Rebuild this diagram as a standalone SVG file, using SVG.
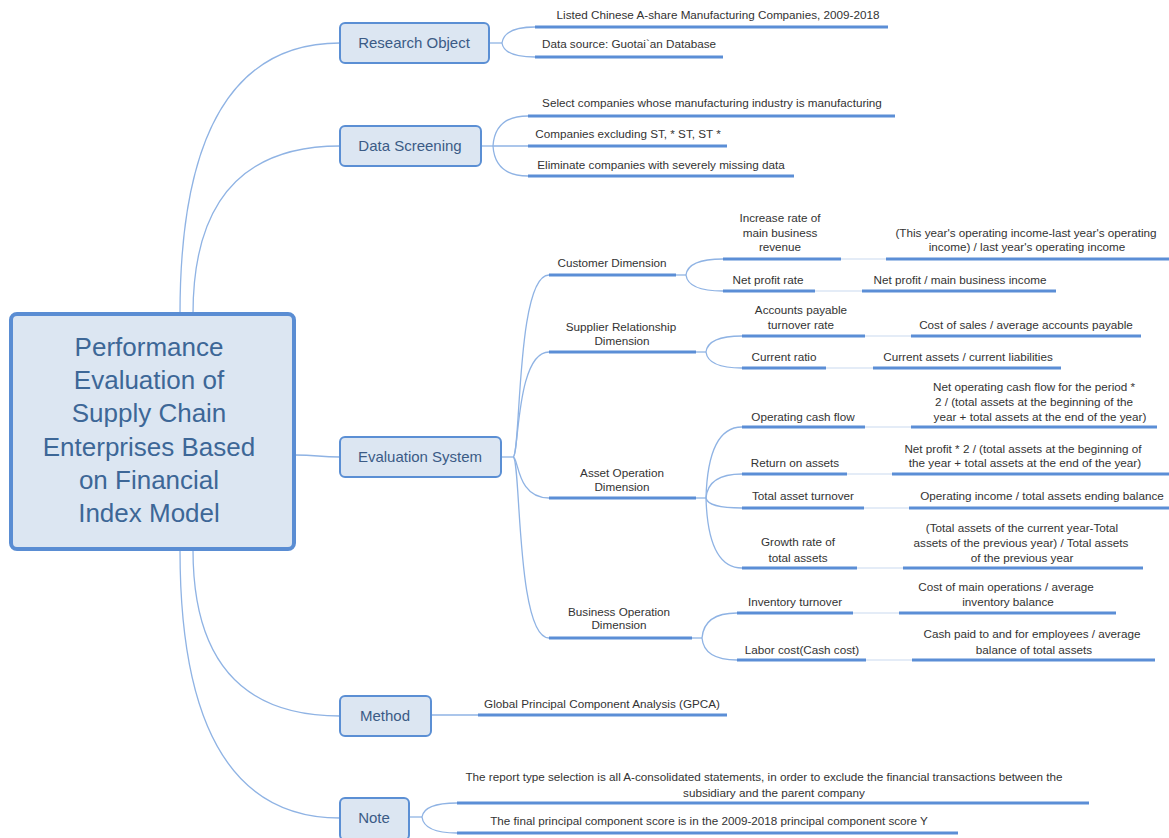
<svg xmlns="http://www.w3.org/2000/svg" width="1169" height="838" viewBox="0 0 1169 838">
<style>
.bg{fill:#ffffff}
.root{fill:#dce6f2;stroke:#5a8dd3;stroke-width:4}
.box{fill:#dce6f2;stroke:#5b8fd4;stroke-width:2}
.rt{font-family:"Liberation Sans",Arial,sans-serif;font-size:26px;fill:#3d6797;text-anchor:middle}
.mt{font-family:"Liberation Sans",Arial,sans-serif;font-size:15px;fill:#3b5b86;text-anchor:middle}
.lt{font-family:"Liberation Sans",Arial,sans-serif;font-size:11.7px;fill:#333333;text-anchor:middle}
.ul{stroke:#5b8ed6;stroke-width:3;fill:none}
.cn{stroke:#8fb3e4;stroke-width:1.3;fill:none}
.tn{stroke:#c9d9ef;stroke-width:1.2;fill:none}
</style>
<rect class="bg" x="0" y="0" width="1169" height="838"/>

<g id="connectors">
  <!-- root to main topics -->
  <path class="cn" d="M180 314 Q180 43 340 43"/>
  <path class="cn" d="M193 314 Q193 146 340 146"/>
  <path class="cn" d="M295 455 C318 455 318 457 340 457"/>
  <path class="cn" d="M193 550 Q193 716 340 716"/>
  <path class="cn" d="M180 550 Q180 818 340 818"/>
  <!-- Research Object -->
  <path class="cn" d="M489 43 L502 43"/>
  <path class="cn" d="M502 43 Q504 27 535 27"/>
  <path class="cn" d="M502 43 Q504 57 535 57"/>
  <!-- Data Screening -->
  <path class="cn" d="M481 146 L493 146"/>
  <path class="cn" d="M493 146 Q495 116 528 116"/>
  <path class="cn" d="M493 146 L528 146"/>
  <path class="cn" d="M493 146 Q495 176 528 176"/>
  <!-- Evaluation System spine -->
  <path class="cn" d="M501 457 L513 457"/>
  <path class="cn" d="M513 457 C521 457 516 275 549 275"/>
  <path class="cn" d="M513 457 C519 457 516 352 549 352"/>
  <path class="cn" d="M513 457 C519 457 516 498 549 498"/>
  <path class="cn" d="M513 457 C521 457 516 638 549 638"/>
  <!-- Customer -->
  <path class="cn" d="M676 275 L686 275"/>
  <path class="cn" d="M686 275 Q688 259 723 259"/>
  <path class="cn" d="M686 275 Q688 291 723 291"/>
  <!-- Supplier -->
  <path class="cn" d="M696 352 L706 352"/>
  <path class="cn" d="M706 352 Q708 336 742 336"/>
  <path class="cn" d="M706 352 Q708 368 742 368"/>
  <!-- Asset -->
  <path class="cn" d="M696 498 L706 498"/>
  <path class="cn" d="M706 498 Q708 427 742 427"/>
  <path class="cn" d="M706 498 Q708 474 742 474"/>
  <path class="cn" d="M706 498 Q708 508 742 508"/>
  <path class="cn" d="M706 498 Q708 568 742 568"/>
  <!-- Business -->
  <path class="cn" d="M692 638 L702 638"/>
  <path class="cn" d="M702 638 Q704 613 737 613"/>
  <path class="cn" d="M702 638 Q704 660 737 660"/>
  <!-- indicator to formula -->
  <path class="tn" d="M841 259 L886 259"/>
  <path class="tn" d="M815 291 L862 291"/>
  <path class="tn" d="M865 336 L911 336"/>
  <path class="tn" d="M826 368 L873 368"/>
  <path class="tn" d="M865 427 L911 427"/>
  <path class="tn" d="M847 474 L892 474"/>
  <path class="tn" d="M864 508 L909 508"/>
  <path class="tn" d="M857 568 L903 568"/>
  <path class="tn" d="M853 613 L899 613"/>
  <path class="tn" d="M866 660 L912 660"/>
  <!-- Method -->
  <path class="cn" d="M431 715 L478 715"/>
  <!-- Note -->
  <path class="cn" d="M409 817 L422 817"/>
  <path class="cn" d="M422 817 Q424 803 457 803"/>
  <path class="cn" d="M422 817 Q424 833 457 833"/>
</g>

<g id="root">
  <rect class="root" x="11" y="314" width="283" height="235" rx="6"/>
  <text class="rt" x="149" y="356">Performance</text>
  <text class="rt" x="149" y="389">Evaluation of</text>
  <text class="rt" x="149" y="422">Supply Chain</text>
  <text class="rt" x="149" y="456">Enterprises Based</text>
  <text class="rt" x="149" y="489">on Financial</text>
  <text class="rt" x="149" y="522">Index Model</text>
</g>

<g id="research-object">
  <rect class="box" x="340" y="23" width="149" height="40" rx="5"/>
  <text class="mt" x="414" y="48">Research Object</text>
</g>
<g id="ro-listed">
  <line class="ul" x1="535" y1="27" x2="888" y2="27"/>
  <text class="lt" x="718" y="19">Listed Chinese A-share Manufacturing Companies, 2009-2018</text>
</g>
<g id="ro-source">
  <line class="ul" x1="535" y1="57" x2="723" y2="57"/>
  <text class="lt" x="629" y="48">Data source: Guotai`an Database</text>
</g>

<g id="data-screening">
  <rect class="box" x="340" y="126" width="141" height="40" rx="5"/>
  <text class="mt" x="410" y="151">Data Screening</text>
</g>
<g id="ds-select">
  <line class="ul" x1="528" y1="116" x2="895" y2="116"/>
  <text class="lt" x="712" y="107">Select companies whose manufacturing industry is manufacturing</text>
</g>
<g id="ds-exclude">
  <line class="ul" x1="528" y1="146" x2="727" y2="146"/>
  <text class="lt" x="628" y="138">Companies excluding ST, * ST, ST *</text>
</g>
<g id="ds-eliminate">
  <line class="ul" x1="528" y1="176" x2="794" y2="176"/>
  <text class="lt" x="661" y="169">Eliminate companies with severely missing data</text>
</g>

<g id="evaluation-system">
  <rect class="box" x="340" y="437" width="161" height="40" rx="5"/>
  <text class="mt" x="420" y="462">Evaluation System</text>
</g>

<g id="customer-dimension">
  <line class="ul" x1="549" y1="275" x2="676" y2="275"/>
  <text class="lt" x="612" y="267">Customer Dimension</text>
</g>
<g id="increase-rate">
  <line class="ul" x1="723" y1="259" x2="841" y2="259"/>
  <text class="lt" x="780" y="222">Increase rate of</text>
  <text class="lt" x="780" y="237">main business</text>
  <text class="lt" x="780" y="251">revenue</text>
</g>
<g id="increase-rate-formula">
  <line class="ul" x1="886" y1="259" x2="1169" y2="259"/>
  <text class="lt" x="1026" y="237">(This year's operating income-last year's operating</text>
  <text class="lt" x="1027" y="251">income) / last year's operating income</text>
</g>
<g id="net-profit-rate">
  <line class="ul" x1="723" y1="291" x2="815" y2="291"/>
  <text class="lt" x="768" y="284">Net profit rate</text>
</g>
<g id="net-profit-formula">
  <line class="ul" x1="862" y1="291" x2="1056" y2="291"/>
  <text class="lt" x="960" y="284">Net profit / main business income</text>
</g>

<g id="supplier-dimension">
  <line class="ul" x1="549" y1="352" x2="696" y2="352"/>
  <text class="lt" x="621" y="331">Supplier Relationship</text>
  <text class="lt" x="622" y="345">Dimension</text>
</g>
<g id="ap-turnover">
  <line class="ul" x1="742" y1="336" x2="865" y2="336"/>
  <text class="lt" x="801" y="314">Accounts payable</text>
  <text class="lt" x="801" y="329">turnover rate</text>
</g>
<g id="ap-formula">
  <line class="ul" x1="911" y1="336" x2="1141" y2="336"/>
  <text class="lt" x="1026" y="329">Cost of sales / average accounts payable</text>
</g>
<g id="current-ratio">
  <line class="ul" x1="742" y1="368" x2="826" y2="368"/>
  <text class="lt" x="784" y="361">Current ratio</text>
</g>
<g id="current-ratio-formula">
  <line class="ul" x1="873" y1="368" x2="1061" y2="368"/>
  <text class="lt" x="968" y="361">Current assets / current liabilities</text>
</g>

<g id="asset-dimension">
  <line class="ul" x1="549" y1="498" x2="696" y2="498"/>
  <text class="lt" x="622" y="477">Asset Operation</text>
  <text class="lt" x="622" y="491">Dimension</text>
</g>
<g id="ocf">
  <line class="ul" x1="742" y1="427" x2="865" y2="427"/>
  <text class="lt" x="803" y="421">Operating cash flow</text>
</g>
<g id="ocf-formula">
  <line class="ul" x1="911" y1="427" x2="1157" y2="427"/>
  <text class="lt" x="1034" y="391">Net operating cash flow for the period *</text>
  <text class="lt" x="1034" y="406">2 / (total assets at the beginning of the</text>
  <text class="lt" x="1040" y="421">year + total assets at the end of the year)</text>
</g>
<g id="roa">
  <line class="ul" x1="742" y1="474" x2="847" y2="474"/>
  <text class="lt" x="795" y="467">Return on assets</text>
</g>
<g id="roa-formula">
  <line class="ul" x1="892" y1="474" x2="1169" y2="474"/>
  <text class="lt" x="1023" y="453">Net profit * 2 / (total assets at the beginning of</text>
  <text class="lt" x="1025" y="467">the year + total assets at the end of the year)</text>
</g>
<g id="tat">
  <line class="ul" x1="742" y1="508" x2="864" y2="508"/>
  <text class="lt" x="803" y="500">Total asset turnover</text>
</g>
<g id="tat-formula">
  <line class="ul" x1="909" y1="508" x2="1169" y2="508"/>
  <text class="lt" x="1042" y="500">Operating income / total assets ending balance</text>
</g>
<g id="growth">
  <line class="ul" x1="742" y1="568" x2="857" y2="568"/>
  <text class="lt" x="798" y="546">Growth rate of</text>
  <text class="lt" x="798" y="562">total assets</text>
</g>
<g id="growth-formula">
  <line class="ul" x1="903" y1="568" x2="1143" y2="568"/>
  <text class="lt" x="1022" y="532">(Total assets of the current year-Total</text>
  <text class="lt" x="1021" y="547">assets of the previous year) / Total assets</text>
  <text class="lt" x="1022" y="562">of the previous year</text>
</g>

<g id="business-dimension">
  <line class="ul" x1="549" y1="638" x2="692" y2="638"/>
  <text class="lt" x="619" y="616">Business Operation</text>
  <text class="lt" x="619" y="629">Dimension</text>
</g>
<g id="inventory">
  <line class="ul" x1="737" y1="613" x2="853" y2="613"/>
  <text class="lt" x="795" y="606">Inventory turnover</text>
</g>
<g id="inventory-formula">
  <line class="ul" x1="899" y1="613" x2="1116" y2="613"/>
  <text class="lt" x="1006" y="591">Cost of main operations / average</text>
  <text class="lt" x="1008" y="606">inventory balance</text>
</g>
<g id="labor">
  <line class="ul" x1="737" y1="660" x2="866" y2="660"/>
  <text class="lt" x="802" y="654">Labor cost(Cash cost)</text>
</g>
<g id="labor-formula">
  <line class="ul" x1="912" y1="660" x2="1155" y2="660"/>
  <text class="lt" x="1032" y="638">Cash paid to and for employees / average</text>
  <text class="lt" x="1034" y="654">balance of total assets</text>
</g>

<g id="method">
  <rect class="box" x="340" y="696" width="91" height="40" rx="5"/>
  <text class="mt" x="385" y="721">Method</text>
</g>
<g id="gpca">
  <line class="ul" x1="478" y1="715" x2="727" y2="715"/>
  <text class="lt" x="602" y="708">Global Principal Component Analysis (GPCA)</text>
</g>

<g id="note">
  <rect class="box" x="340" y="798" width="69" height="42" rx="5"/>
  <text class="mt" x="374" y="823">Note</text>
</g>
<g id="note-report">
  <line class="ul" x1="457" y1="803" x2="1089" y2="803"/>
  <text class="lt" x="764" y="781">The report type selection is all A-consolidated statements, in order to exclude the financial transactions between the</text>
  <text class="lt" x="774" y="797">subsidiary and the parent company</text>
</g>
<g id="note-score">
  <line class="ul" x1="457" y1="833" x2="958" y2="833"/>
  <text class="lt" x="709" y="825">The final principal component score is in the 2009-2018 principal component score Y</text>
</g>
</svg>
